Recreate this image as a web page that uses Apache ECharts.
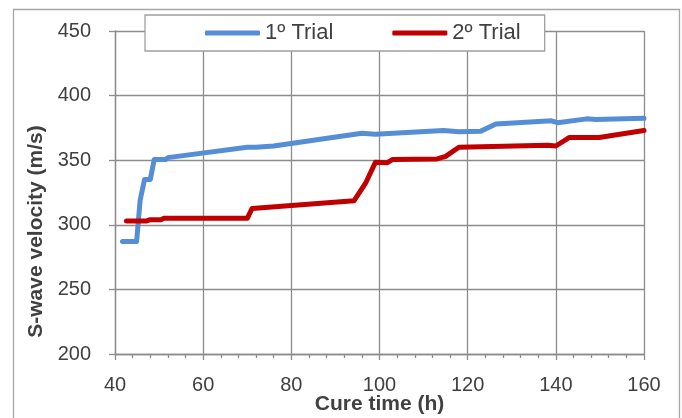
<!DOCTYPE html>
<html>
<head>
<meta charset="utf-8">
<script src="https://cdn.jsdelivr.net/npm/echarts@6/dist/echarts.min.js"></script>
<style>html,body{margin:0;padding:0;background:#fff}#c{width:682px;height:418px}</style>
</head>
<body>
<div id="c"></div>
<script>
const trial1Hours = [41.7, 44.9, 45.7, 46.7, 48.0, 48.9, 51.5, 52, 70, 72, 76, 96, 99, 114.5, 118, 123, 126.4, 139, 140.4, 147, 149, 160];
const trial1Velocity = [287, 287, 319, 335, 335, 350.5, 350.5, 352, 360, 360, 361, 370.8, 370, 373, 372, 372.5, 378, 380.5, 379, 382, 381.5, 382.5];
const trial2Hours = [42.6, 47.2, 48, 50.5, 51, 70, 71.1, 94.2, 96.8, 99.1, 101.7, 102.9, 113.1, 115, 118, 138.1, 140, 143, 149.8, 160];
const trial2Velocity = [303, 303, 304, 304, 305, 305, 312.7, 318.6, 332, 348.5, 348, 350.5, 351, 353, 360, 361.5, 361, 367.5, 367.5, 373];
const seriesNames = ['1º Trial', '2º Trial'];
const xTitle = 'Cure time (h)';
const yTitle = 'S-wave velocity (m/s)';

const pair = (xs, ys) => xs.map((x, i) => [x, ys[i]]);
const font = '"Liberation Sans", Arial, sans-serif';
const gridColor = '#8c8c8c';

const chart = echarts.init(document.getElementById('c'), null, {renderer: 'canvas'});
chart.setOption({
  animation: false,
  backgroundColor: '#fff',
  textStyle: {fontFamily: font},
  graphic: [{
    type: 'rect', left: 11, top: 7, z: -1,
    shape: {width: 666, height: 420},
    style: {fill: 'none', stroke: '#a6a6a6', lineWidth: 1.3}
  }],
  grid: {left: 115, right: 38, top: 31, bottom: 64, containLabel: false, outerBoundsMode: 'none'},
  legend: {
    data: seriesNames,
    left: 145, top: 15,
    padding: [7, 24, 7, 60],
    backgroundColor: '#fff',
    borderColor: '#a0a0a0', borderWidth: 1.3,
    itemWidth: 55, itemHeight: 5, itemGap: 59,
    icon: 'roundRect',
    textStyle: {fontSize: 22, color: '#404040', fontFamily: font}
  },
  xAxis: {
    type: 'value', min: 40, max: 160, interval: 20,
    name: xTitle, nameLocation: 'middle', nameGap: 40, nameMoveOverlap: false,
    nameTextStyle: {fontSize: 21, fontWeight: 'bold', color: '#404040'},
    axisLine: {lineStyle: {color: gridColor, width: 1.3}},
    axisTick: {show: true, length: 6, lineStyle: {color: gridColor, width: 1.3}},
    minorTick: {show: true, splitNumber: 5, length: 4, lineStyle: {color: gridColor, width: 1.3}},
    axisLabel: {fontSize: 20, color: '#404040', margin: 21},
    splitLine: {show: true, lineStyle: {color: gridColor, width: 1.3}}
  },
  yAxis: {
    type: 'value', min: 200, max: 450, interval: 50,
    name: yTitle, nameLocation: 'middle', nameGap: 68, nameMoveOverlap: false,
    nameTextStyle: {fontSize: 21, fontWeight: 'bold', color: '#404040', padding: [0, 78, 0, 0]},
    axisLine: {show: true, lineStyle: {color: gridColor, width: 1.3}},
    axisTick: {show: true, length: 6, lineStyle: {color: gridColor, width: 1.3}},
    axisLabel: {fontSize: 20, color: '#404040', margin: 24},
    splitLine: {show: true, lineStyle: {color: gridColor, width: 1.3}}
  },
  series: [
    {name: seriesNames[0], type: 'line', data: pair(trial1Hours, trial1Velocity), showSymbol: false, symbol: 'none',
     lineStyle: {color: '#558ED5', width: 5, cap: 'round', join: 'round'}, itemStyle: {color: '#558ED5'}},
    {name: seriesNames[1], type: 'line', data: pair(trial2Hours, trial2Velocity), showSymbol: false, symbol: 'none',
     lineStyle: {color: '#C00000', width: 5, cap: 'round', join: 'round'}, itemStyle: {color: '#C00000'}}
  ]
});
</script>
</body>
</html>
